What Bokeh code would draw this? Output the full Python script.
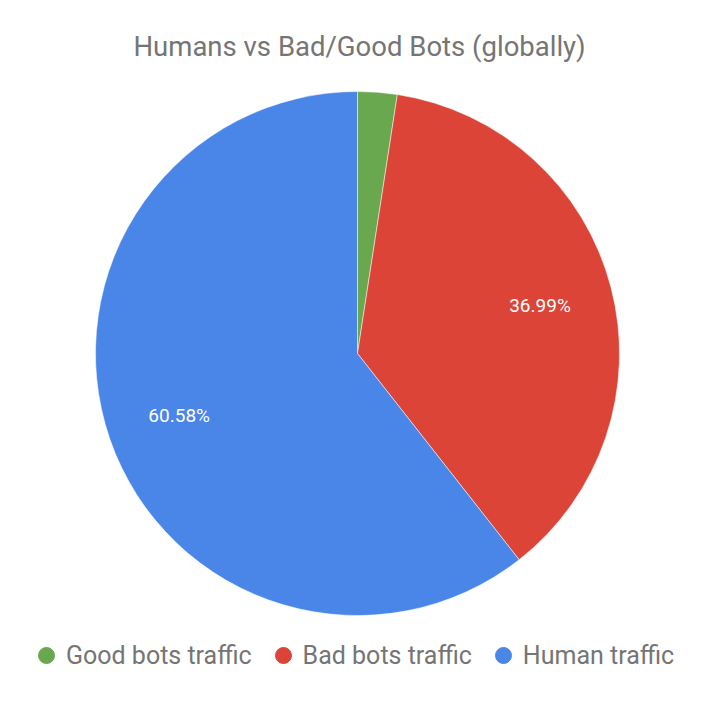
import math
from bokeh.plotting import figure
from bokeh.models import Range1d, ColumnDataSource, Legend, LegendItem
from bokeh.core.properties import value
from bokeh.embed import file_html
from bokeh.resources import INLINE

title_text = "Humans vs Bad/Good Bots (globally)"
categories = ["Good bots traffic", "Bad bots traffic", "Human traffic"]
shares = [2.43, 36.99, 60.58]
colors = ["#6aa84f", "#db4437", "#4a86e8"]
show_label = [False, True, True]

total = sum(shares)
starts, ends, lx, ly, labels = [], [], [], [], []
cum = 0.0
for s in shares:
    a0 = math.pi / 2 - 2 * math.pi * cum / total
    cum += s
    a1 = math.pi / 2 - 2 * math.pi * cum / total
    starts.append(a0)
    ends.append(a1)
    mid = (a0 + a1) / 2
    lx.append(0.72 * math.cos(mid))
    ly.append(0.72 * math.sin(mid))
    labels.append(f"{s:.2f}%")

R = 262.0
frame_w, frame_h = 699, 628
top_border = 72
cx_scr, cy_scr = 357.0, 353.0

p = figure(frame_width=frame_w, frame_height=frame_h,
           output_backend="svg", toolbar_location=None,
           x_range=Range1d((0 - cx_scr) / R, (frame_w - cx_scr) / R),
           y_range=Range1d((cy_scr - (top_border + frame_h)) / R, (cy_scr - top_border) / R),
           min_border=0, min_border_top=top_border)
p.axis.visible = False
p.grid.visible = False
p.outline_line_color = None
p.background_fill_color = "white"
p.border_fill_color = "white"

p.title.text = title_text
p.title.align = "left"
p.title.text_font = "Roboto"
p.title.text_font_size = "27.5px"
p.title.text_font_style = "normal"
p.title.text_color = "#757575"
p.title.offset = 133
p.title.standoff = 20

src = ColumnDataSource(dict(start=starts, end=ends, color=colors, cat=categories))
p.wedge(x=0, y=0, radius=1.0, start_angle="start", end_angle="end",
        direction="clock", fill_color="color", line_color="white", line_width=0.5,
        source=src)

lab = ColumnDataSource(dict(x=[lx[i] for i in range(3) if show_label[i]],
                            y=[ly[i] for i in range(3) if show_label[i]],
                            t=[labels[i] for i in range(3) if show_label[i]]))
p.text(x="x", y="y", text="t", source=lab, text_color="white",
       text_font=value("Roboto"), text_font_size="19px",
       text_align="center", text_baseline="middle")

items = []
for c, col in zip(categories, colors):
    r = p.scatter(x=[float("nan")], y=[float("nan")], size=16, marker="circle",
                  fill_color=col, line_color=col)
    items.append(LegendItem(label=c, renderers=[r]))

legend = Legend(items=items, orientation="horizontal", location=(26, 25),
                label_text_font="Roboto", label_text_font_size="25px",
                label_text_color="#757575", glyph_width=40, glyph_height=40,
                label_standoff=0, spacing=11, padding=0, margin=0,
                border_line_color=None, background_fill_alpha=0)
p.add_layout(legend, "center")

open("out.html", "w").write(file_html(p, INLINE))
